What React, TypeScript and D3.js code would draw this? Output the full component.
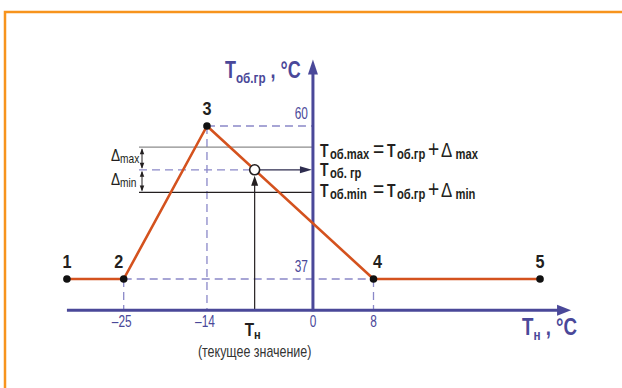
import React from "react";
import * as d3 from "d3";

// break points of the heating curve: outdoor temp -> return water temp
const pointTn = [-32.5, -25, -14, 8, 30];
const pointTob = [37, 37, 60, 37, 37];
const pointNames = ["1", "2", "3", "4", "5"];
const xTicks = [-25, -14, 0, 8];
const yTicks = [60, 37];
const currentTn = -7.7;
const deltaMax = 3.4;
const deltaMin = -3.4;

const ORANGE = "#f7941d";
const CURVE = "#d4521e";
const AXIS = "#4a4899";
const DASH = "#8a88c8";
const FONT = "'Liberation Sans', Arial, sans-serif";

// condensed text: Liberation Sans squeezed horizontally
const Cond = ({x, y, sx = 0.8, children, ...rest}) => (
    <g transform={`translate(${x},${y}) scale(${sx},1)`}>
        <text x={0} y={0} fontFamily={FONT} {...rest}>{children}</text>
    </g>
);

const Arrow = ({x1, y1, x2, y2, color, size = 9, width = 6}) => {
    const a = Math.atan2(y2 - y1, x2 - x1);
    const bx = x2 - size * Math.cos(a);
    const by = y2 - size * Math.sin(a);
    const px = (width / 2) * Math.sin(a);
    const py = (width / 2) * Math.cos(a);
    return (
        <polygon
            points={`${x2},${y2} ${bx + px},${by - py} ${bx - px},${by + py}`}
            fill={color}
        />
    );
};

const App = () => {
    const x = d3.scaleLinear().domain([-25, 8]).range([123.7, 373.5]);
    const y = d3.scaleLinear().domain([37, 60]).range([279, 126]);

    const line = d3.line<number>()
        .x((d, i) => x(pointTn[i]))
        .y((d) => y(d));

    const x0 = x(0);
    const axisY = y(32.3);
    const axisLeft = x(-32.5);
    const axisRight = x(34.1);
    const axisTop = y(70);

    // current outdoor temperature projected on curve 3-4
    const t = (currentTn - pointTn[2]) / (pointTn[3] - pointTn[2]);
    const tobGr = pointTob[2] + t * (pointTob[3] - pointTob[2]);
    const cx = x(currentTn);
    const cy = y(tobGr);
    const yMax = y(tobGr + deltaMax);
    const yMin = y(tobGr + deltaMin);
    const leftRef = 139;
    const dArrowX = 142;

    const fmt = (v) => `${v}`.replace("-", "–");

    // formula pieces are placed at absolute x, converted into the squeezed frame
    const fx0 = 319;
    const fsx = 0.8;
    const lx = (abs) => (abs - fx0) / fsx;
    const formula = (yy, sub, rhs) => (
        <Cond x={fx0} y={yy} sx={fsx} fontWeight="bold" fill="#231f20" fontSize={17.5}>
            <tspan x={lx(320)}>T</tspan>
            <tspan x={lx(330)} fontSize={14} dy={2}>{sub}</tspan>
            {rhs && <tspan x={lx(373)} dy={-2} fontWeight="normal" fontSize={24}>=</tspan>}
            {rhs && <tspan x={lx(387)}>T</tspan>}
            {rhs && <tspan x={lx(397)} fontSize={14} dy={2}>об.гр</tspan>}
            {rhs && <tspan x={lx(428)} dy={-2} fontWeight="normal" fontSize={24}>+</tspan>}
            {rhs && <tspan x={lx(441)} fontWeight="normal" fontSize={21}>Δ</tspan>}
            {rhs && <tspan x={lx(455.5)} fontSize={14} dy={2}>{rhs}</tspan>}
        </Cond>
    );

    return (
        <svg width={622} height={388} style={{position: "absolute", left: 0, top: 0, background: "#fff"}}>
            {/* frame */}
            <path d="M5,388 V12 H622" fill="none" stroke={ORANGE} strokeWidth={2.5}/>

            {/* guide dashes */}
            <g stroke={DASH} strokeWidth={1.3} strokeDasharray="8,5" fill="none">
                <line x1={x(-14)} y1={y(60)} x2={x0} y2={y(60)}/>
                <line x1={x(-14)} y1={y(60)} x2={x(-14)} y2={axisY}/>
                <line x1={x(-25)} y1={y(37)} x2={x(8)} y2={y(37)}/>
                <line x1={x(-25)} y1={y(37)} x2={x(-25)} y2={axisY}/>
                <line x1={x(8)} y1={y(37)} x2={x(8)} y2={axisY}/>
                <line x1={leftRef} y1={cy} x2={cx - 5} y2={cy}/>
            </g>

            {/* delta limits */}
            <line x1={leftRef} y1={yMax} x2={x0} y2={yMax} stroke="#8c8c8c" strokeWidth={1.2}/>
            <line x1={leftRef} y1={yMin} x2={x0} y2={yMin} stroke="#231f20" strokeWidth={1.2}/>
            <g stroke="#231f20" strokeWidth={1}>
                <line x1={dArrowX} y1={yMax + 2} x2={dArrowX} y2={cy - 2}/>
                <line x1={dArrowX} y1={cy + 2} x2={dArrowX} y2={yMin - 2}/>
            </g>
            <Arrow x1={dArrowX} y1={cy} x2={dArrowX} y2={yMax + 1} color="#231f20" size={6} width={4.5}/>
            <Arrow x1={dArrowX} y1={yMax} x2={dArrowX} y2={cy - 1} color="#231f20" size={6} width={4.5}/>
            <Arrow x1={dArrowX} y1={yMin} x2={dArrowX} y2={cy + 1} color="#231f20" size={6} width={4.5}/>
            <Arrow x1={dArrowX} y1={cy} x2={dArrowX} y2={yMin - 1} color="#231f20" size={6} width={4.5}/>
            <Cond x={111} y={161} sx={0.85} fontSize={16} fill="#231f20">
                Δ<tspan fontSize={12} dy={2}>max</tspan>
            </Cond>
            <Cond x={111} y={185} sx={0.85} fontSize={16} fill="#231f20">
                Δ<tspan fontSize={12} dy={2}>min</tspan>
            </Cond>

            {/* current outdoor temperature */}
            <line x1={cx} y1={axisY} x2={cx} y2={cy + 14} stroke="#231f20" strokeWidth={1.2}/>
            <Arrow x1={cx} y1={axisY} x2={cx} y2={cy + 6} color="#231f20" size={10} width={7}/>
            <line x1={cx + 5} y1={cy} x2={x0 - 10} y2={cy} stroke="#2e2d4f" strokeWidth={1.3}/>
            <Arrow x1={cx} y1={cy} x2={x0 - 1} y2={cy} color="#2e2d4f" size={12} width={7}/>

            {/* axes */}
            <line x1={axisLeft} y1={axisY} x2={axisRight - 8} y2={axisY} stroke={AXIS} strokeWidth={3}/>
            <Arrow x1={axisLeft} y1={axisY} x2={axisRight} y2={axisY} color={AXIS} size={14} width={11}/>
            <line x1={x0} y1={axisY + 1} x2={x0} y2={axisTop + 8} stroke={AXIS} strokeWidth={3}/>
            <Arrow x1={x0} y1={axisY} x2={x0} y2={axisTop} color={AXIS} size={15} width={10}/>

            {/* curve */}
            <path d={line(pointTob) ?? ""} fill="none" stroke={CURVE} strokeWidth={2.6} strokeLinejoin="round"/>
            {pointTob.map((v, i) => (
                <circle key={i} cx={x(pointTn[i])} cy={y(v)} r={3.8} fill="#111"/>
            ))}
            {pointTob.map((v, i) => (
                <Cond
                    key={`l${i}`}
                    x={x(pointTn[i]) + (i === 1 ? -5 : i === 3 ? 4 : 0)}
                    y={y(v) - 11}
                    sx={0.9}
                    textAnchor="middle"
                    fontWeight="bold"
                    fontSize={18}
                    fill="#231f20"
                >
                    {pointNames[i]}
                </Cond>
            ))}
            <circle cx={cx} cy={cy} r={5} fill="#fff" stroke="#231f20" strokeWidth={1.6}/>

            {/* tick labels */}
            {xTicks.map((v) => (
                <Cond key={v} x={x(v) - (v < 0 ? 2 : 0)} y={327} sx={0.72} textAnchor="middle" fontSize={16.5} fill={AXIS}>
                    {fmt(v)}
                </Cond>
            ))}
            {yTicks.map((v) => (
                <Cond key={v} x={x0 - 5} y={y(v) - 7} sx={0.72} textAnchor="end" fontSize={16.5} fill={AXIS}>
                    {fmt(v)}
                </Cond>
            ))}

            {/* axis titles */}
            <Cond x={225} y={78} sx={0.78} fontWeight="bold" fontSize={23} fill={AXIS}>
                T<tspan fontSize={15} dy={5}>об.гр</tspan><tspan dy={-5}> , °C</tspan>
            </Cond>
            <Cond x={522} y={335} sx={0.78} fontWeight="bold" fontSize={24} fill={AXIS}>
                T<tspan fontSize={15} dy={5}>н</tspan><tspan dy={-5}> , °C</tspan>
            </Cond>
            <Cond x={cx - 2} y={336} sx={0.85} textAnchor="middle" fontWeight="bold" fontSize={18} fill="#231f20">
                T<tspan fontSize={13} dy={3}>н</tspan>
            </Cond>
            <Cond x={cx} y={357} sx={0.78} textAnchor="middle" fontSize={16} fill="#333">
                (текущее значение)
            </Cond>

            {/* formulas */}
            {formula(157, "об.max", "max")}
            {formula(176, "об. гр", null)}
            {formula(197, "об.min", "min")}
        </svg>
    );
};

export default App;
